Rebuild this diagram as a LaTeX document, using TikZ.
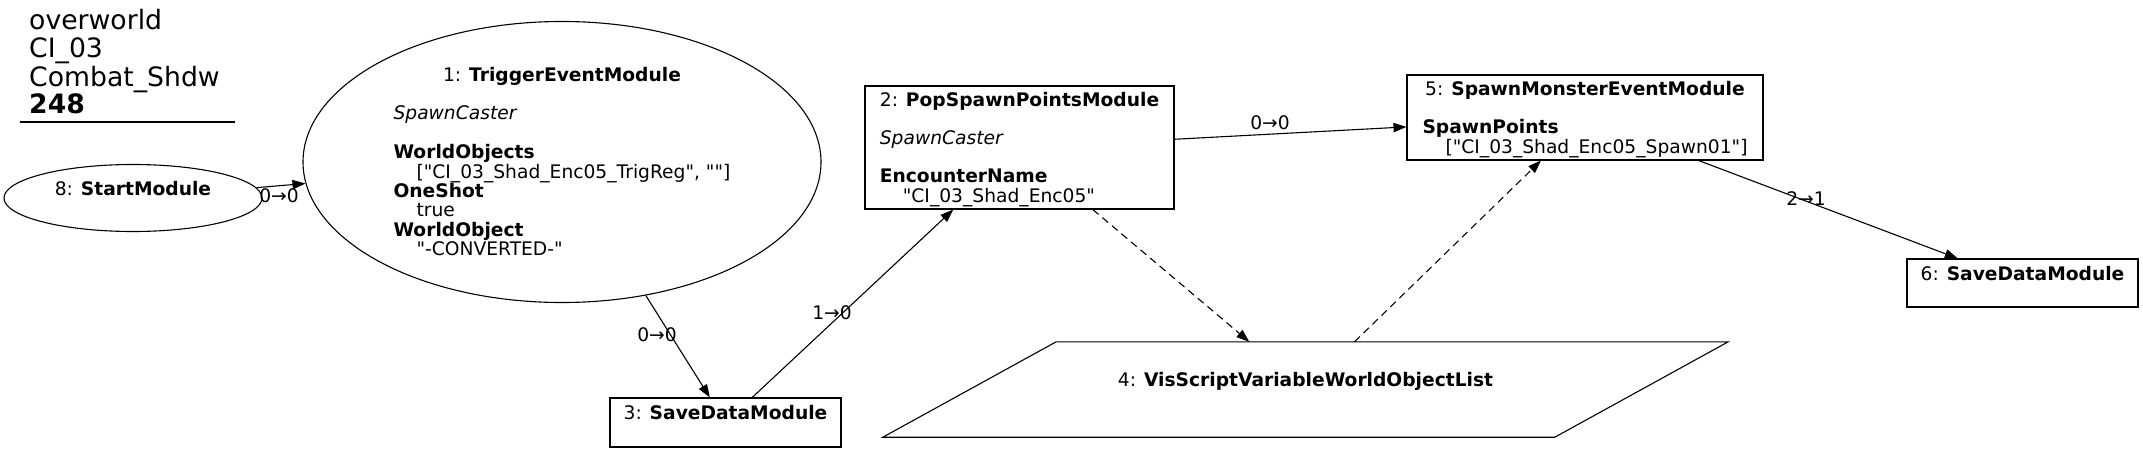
\documentclass[tikz,border=0pt]{standalone}
\usepackage{fontspec}
\setmainfont{DejaVu Sans}
\usetikzlibrary{arrows.meta,positioning,shapes.geometric}
\newcommand{\qq}{\textquotedbl}
\newcommand{\modstrut}{\rule{0pt}{19pt}}
\tikzset{
  modbox/.style={draw,line width=1.1pt,inner sep=0pt,font=\fontsize{18.67}{18.67}\selectfont},
  modellipse/.style={modbox,ellipse},
  modpara/.style={inner sep=0pt,font=\fontsize{18.67}{18.67}\selectfont},
  flowarrow/.style={-{Triangle[length=13pt,width=9.3pt]},line width=1.1pt},
  dataarrow/.style={flowarrow,dash pattern=on 7.5pt off 5pt},
  edgelabel/.style={inner sep=0pt,font=\fontsize{18.67}{18.67}\selectfont}
}
\begin{document}
\begin{tikzpicture}[x=1pt,y=-1pt]
  \path[fill=white,use as bounding box] (0,0) rectangle (2143,452);
  % title block
  \node[anchor=base west,inner sep=0pt,font=\fontsize{26.67}{26.67}\selectfont] (title) at (29,30) {\begin{tabular}[t]{@{}l@{}}overworld\\CI\_03\\Combat\_Shdw\\\textbf{248}\end{tabular}};
  \draw[line width=1.1pt] (20,122) -- (235,122);
  % modules
  \node[modellipse,minimum width=258pt,minimum height=67pt] (start) at (133,198) {\begin{tabular}{@{}c@{}}\modstrut 8: \textbf{StartModule}\\ \mbox{}\end{tabular}};
  \node[modellipse,minimum width=518pt,minimum height=280pt] (trig) at (562,162) {\begin{tabular}{@{}l@{}}
    \multicolumn{1}{@{}c@{}}{\modstrut 1: \textbf{TriggerEventModule}}\\
    \\
    \textit{SpawnCaster}\\
    \\
    \textbf{WorldObjects}\\
    \hspace*{23pt}[\qq CI\_03\_Shad\_Enc05\_TrigReg\qq, \qq\qq]\\
    \textbf{OneShot}\\
    \hspace*{23pt}true\\
    \textbf{WorldObject}\\
    \hspace*{23pt}\qq-CONVERTED-\qq
  \end{tabular}};
  \node[modbox,minimum width=309pt,minimum height=123pt] (pop) at (1019.5,147.5) {\begin{tabular}{@{}l@{}}
    \multicolumn{1}{@{}c@{}}{\modstrut 2: \textbf{PopSpawnPointsModule}}\\
    \\
    \textit{SpawnCaster}\\
    \\
    \textbf{EncounterName}\\
    \hspace*{23pt}\qq CI\_03\_Shad\_Enc05\qq
  \end{tabular}};
  \node[modbox,minimum width=231pt,minimum height=49pt] (save3) at (725.5,422.5) {\begin{tabular}{@{}c@{}}\modstrut 3: \textbf{SaveDataModule}\\ \mbox{}\end{tabular}};
  \node[modpara,minimum width=845pt,minimum height=95pt] (vis) at (1305.5,389.5) {\begin{tabular}{@{}c@{}}\modstrut 4: \textbf{VisScriptVariableWorldObjectList}\\ \mbox{}\end{tabular}};
  \draw[line width=1.1pt] (vis.south west) -- ++(672,0) -- (vis.north east) -- ++(-672,0) -- cycle;
  \node[modbox,minimum width=356pt,minimum height=85pt] (spawn) at (1585,117.5) {\begin{tabular}{@{}l@{}}
    \multicolumn{1}{@{}c@{}}{\modstrut 5: \textbf{SpawnMonsterEventModule}}\\
    \\
    \textbf{SpawnPoints}\\
    \hspace*{23pt}[\qq CI\_03\_Shad\_Enc05\_Spawn01\qq]
  \end{tabular}};
  \node[modbox,minimum width=231pt,minimum height=48pt] (save6) at (2022.5,283) {\begin{tabular}{@{}c@{}}\modstrut 6: \textbf{SaveDataModule}\\ \mbox{}\end{tabular}};
  % connectors
  \draw[flowarrow] (start) -- (trig);
  \draw[flowarrow] (trig) -- (save3);
  \draw[flowarrow] (save3) -- (pop);
  \draw[flowarrow] (pop) -- (spawn);
  \draw[dataarrow] (pop) -- (vis);
  \draw[dataarrow] (vis) -- (spawn);
  \draw[flowarrow] (spawn) -- (save6);
  \node[edgelabel] (lstart) at (279,196) {0→0};
  \node[edgelabel] (ltrig) at (657,335) {0→0};
  \node[edgelabel] (lsave) at (832,313) {1→0};
  \node[edgelabel] (lpop) at (1270,123) {0→0};
  \node[edgelabel] (lspawn) at (1806,199) {2→1};
\end{tikzpicture}
\end{document}
